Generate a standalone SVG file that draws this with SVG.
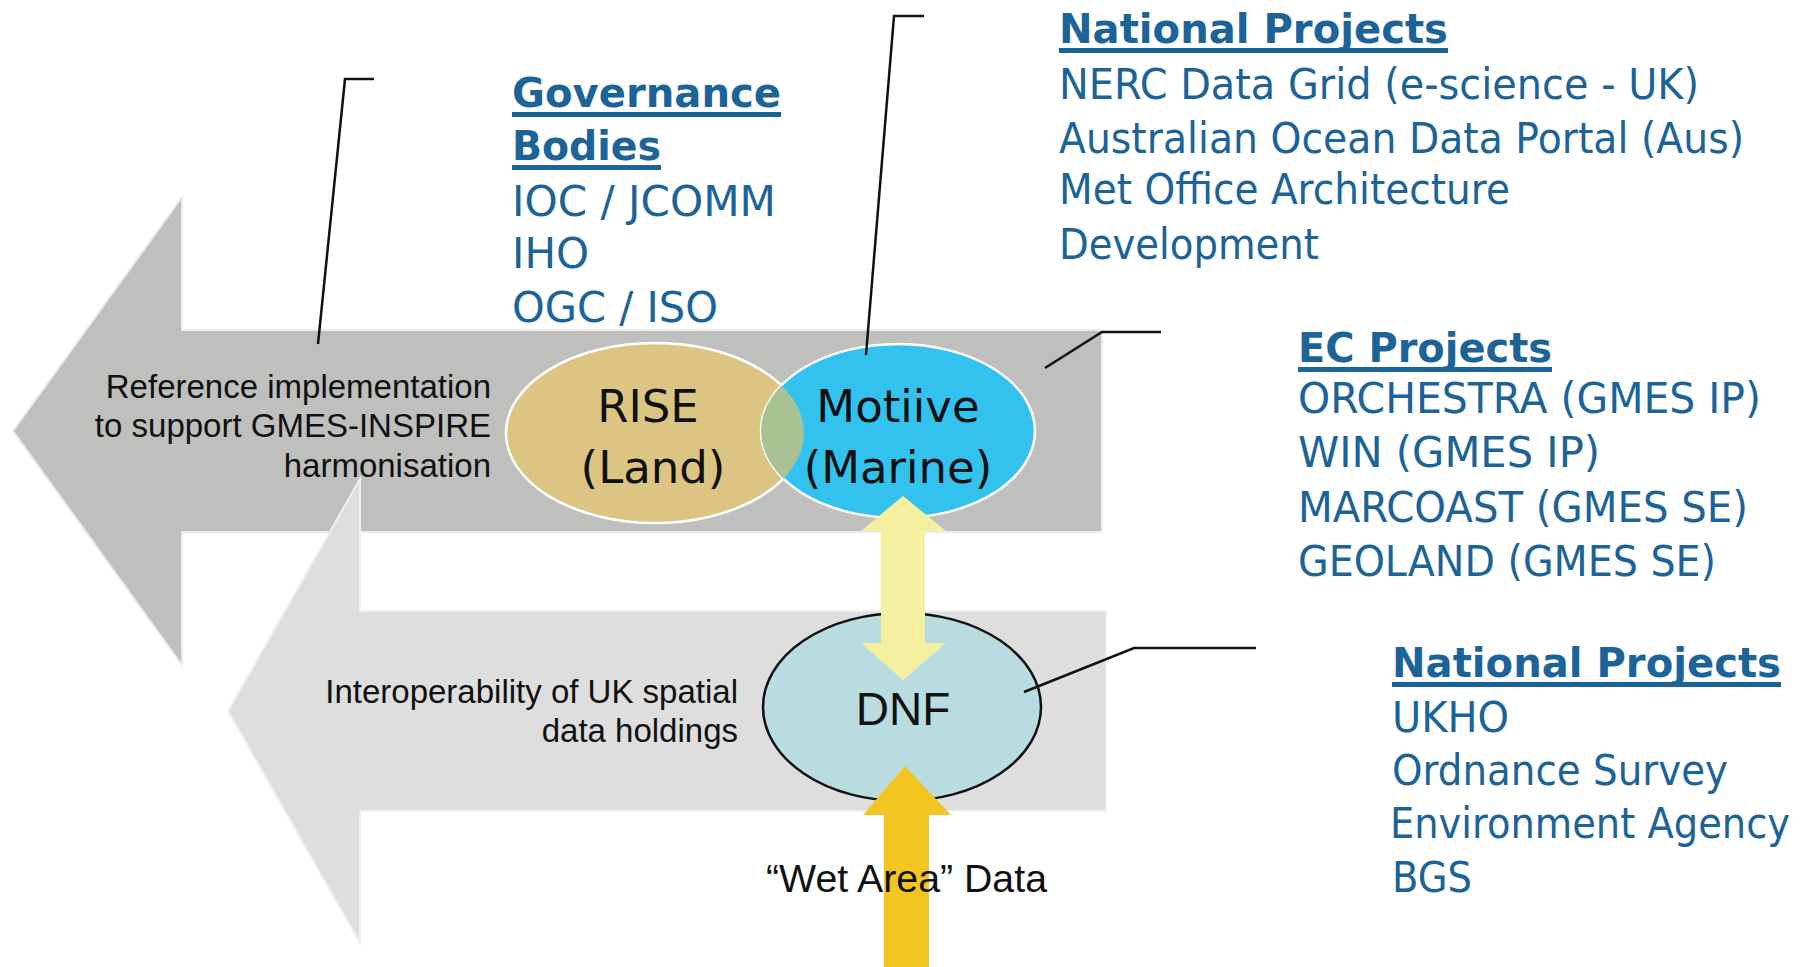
<svg xmlns="http://www.w3.org/2000/svg" width="1815" height="967" viewBox="0 0 1815 967">
<style>
.lbl{font-family:"Liberation Sans",Arial,sans-serif;font-size:33px;fill:#111;}
.ell{font-family:"DejaVu Sans",Verdana,sans-serif;font-size:45px;fill:#111;text-anchor:middle;}
.hd{font-family:"DejaVu Sans",Verdana,sans-serif;font-size:40px;font-weight:bold;fill:#1c6398;}
.bt{font-family:"DejaVu Sans",Verdana,sans-serif;font-size:42px;fill:#1c6398;}
.ul{fill:#1c6398;}
.lead{fill:none;stroke:#111;stroke-width:2.5;}
</style>
<defs>
<clipPath id="clipMot"><ellipse cx="898" cy="431" rx="137" ry="87"/></clipPath>
</defs>
<rect width="1815" height="967" fill="#ffffff"/>
<g id="arrow-top">
<polygon points="13,431 182,197 182,330 1102,330 1102,532 182,532 182,665" fill="#bfbfbd" stroke="#ececec" stroke-width="2"/>
</g>
<g id="arrow-bottom">
<polygon points="228,711 360,479 360,611 1106,611 1106,811 360,811 360,943" fill="#dedede" stroke="#f0f0f0" stroke-width="2"/>
</g>
<g id="node-rise">
<ellipse cx="655" cy="433" rx="149" ry="90" fill="#dcc583" stroke="#ffffff" stroke-width="2.5"/>
</g>
<g id="node-motiive">
<ellipse cx="898" cy="431" rx="137" ry="87" fill="#33c1ed" stroke="#ffffff" stroke-width="2.5"/>
<ellipse cx="655" cy="433" rx="149" ry="90" fill="#a9c294" clip-path="url(#clipMot)"/>
</g>
<g id="node-dnf">
<ellipse cx="902" cy="707" rx="139" ry="94" fill="#b9dce0" stroke="#111" stroke-width="2.5"/>
</g>
<g id="connectors">
<polyline class="lead" points="318,344 345,79 374,79"/>
<polyline class="lead" points="866,355 894,16 924,16"/>
<polyline class="lead" points="1045,368 1102,332 1161,332"/>
<polyline class="lead" points="1024,692 1134,648 1256,648"/>
<polygon points="903,496 946,531 925,531 925,643 946,643 903,680 861,643 881,643 881,531 861,531" fill="#f4f0a0"/>
<polygon points="905,766 951,815 929,815 929,967 884,967 884,815 863,815" fill="#f2c522"/>
</g>
<g id="text-rise">
<text class="ell" x="648" y="422">RISE</text>
<text class="ell" x="653" y="483">(Land)</text>
</g>
<g id="text-motiive">
<text class="ell" x="898" y="422">Motiive</text>
<text class="ell" x="898" y="483">(Marine)</text>
</g>
<g id="text-dnf">
<text x="903" y="725" text-anchor="middle" font-family="Liberation Sans, Arial, sans-serif" font-size="46" fill="#111">DNF</text>
</g>
<g id="label-reference">
<text class="lbl" text-anchor="end" x="491" y="398">Reference implementation</text>
<text class="lbl" text-anchor="end" x="491" y="437">to support GMES-INSPIRE</text>
<text class="lbl" text-anchor="end" x="491" y="477">harmonisation</text>
</g>
<g id="label-interop">
<text class="lbl" text-anchor="end" x="738" y="703">Interoperability of UK spatial</text>
<text class="lbl" text-anchor="end" x="738" y="742">data holdings</text>
</g>
<g id="label-wet">
<text x="766" y="892" font-family="Liberation Sans, Arial, sans-serif" font-size="38" fill="#111" textLength="281" lengthAdjust="spacingAndGlyphs">“Wet Area” Data</text>
</g>
<g id="governance">
<text class="hd" x="512" y="107" textLength="269" lengthAdjust="spacingAndGlyphs">Governance</text>
<rect class="ul" x="512" y="112" width="269" height="5"/>
<text class="hd" x="512" y="160" textLength="149" lengthAdjust="spacingAndGlyphs">Bodies</text>
<rect class="ul" x="512" y="165" width="149" height="5"/>
<text class="bt" x="512" y="216" textLength="264" lengthAdjust="spacingAndGlyphs">IOC / JCOMM</text>
<text class="bt" x="512" y="268" textLength="77" lengthAdjust="spacingAndGlyphs">IHO</text>
<text class="bt" x="512" y="322" textLength="206" lengthAdjust="spacingAndGlyphs">OGC / ISO</text>
</g>
<g id="national-top">
<text class="hd" x="1059" y="43" textLength="389" lengthAdjust="spacingAndGlyphs">National Projects</text>
<rect class="ul" x="1059" y="48" width="389" height="5"/>
<text class="bt" x="1059" y="99" textLength="640" lengthAdjust="spacingAndGlyphs">NERC Data Grid (e-science - UK)</text>
<text class="bt" x="1059" y="153" textLength="685" lengthAdjust="spacingAndGlyphs">Australian Ocean Data Portal (Aus)</text>
<text class="bt" x="1059" y="204" textLength="451" lengthAdjust="spacingAndGlyphs">Met Office Architecture</text>
<text class="bt" x="1059" y="259" textLength="260" lengthAdjust="spacingAndGlyphs">Development</text>
</g>
<g id="ec-projects">
<text class="hd" x="1298" y="362" textLength="254" lengthAdjust="spacingAndGlyphs">EC Projects</text>
<rect class="ul" x="1298" y="367" width="254" height="5"/>
<text class="bt" x="1298" y="413" textLength="463" lengthAdjust="spacingAndGlyphs">ORCHESTRA (GMES IP)</text>
<text class="bt" x="1298" y="467" textLength="302" lengthAdjust="spacingAndGlyphs">WIN (GMES IP)</text>
<text class="bt" x="1298" y="522" textLength="450" lengthAdjust="spacingAndGlyphs">MARCOAST (GMES SE)</text>
<text class="bt" x="1298" y="576" textLength="418" lengthAdjust="spacingAndGlyphs">GEOLAND (GMES SE)</text>
</g>
<g id="national-bottom">
<text class="hd" x="1392" y="677" textLength="389" lengthAdjust="spacingAndGlyphs">National Projects</text>
<rect class="ul" x="1392" y="682" width="389" height="5"/>
<text class="bt" x="1392" y="732" textLength="117" lengthAdjust="spacingAndGlyphs">UKHO</text>
<text class="bt" x="1392" y="785" textLength="336" lengthAdjust="spacingAndGlyphs">Ordnance Survey</text>
<text class="bt" x="1390" y="838" font-size="36" textLength="400" lengthAdjust="spacingAndGlyphs">Environment Agency</text>
<text class="bt" x="1392" y="892" textLength="80" lengthAdjust="spacingAndGlyphs">BGS</text>
</g>
</svg>
